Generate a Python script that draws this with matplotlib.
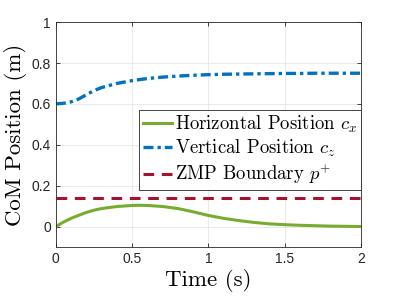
import matplotlib
matplotlib.use("Agg")
import matplotlib.pyplot as plt
import numpy as np

plt.rcParams['mathtext.fontset'] = 'cm'

t = [0, 0.05, 0.1, 0.15, 0.2, 0.25, 0.3, 0.4, 0.5, 0.55, 0.6, 0.7, 0.8, 0.9, 1.0, 1.1, 1.2, 1.3, 1.4, 1.5, 1.6, 1.7, 1.8, 1.9, 2.0]
cx = [0.0, 0.022, 0.040, 0.055, 0.069, 0.080, 0.088, 0.098, 0.103, 0.104, 0.103, 0.098, 0.088, 0.072, 0.054, 0.040, 0.029, 0.020, 0.013, 0.009, 0.006, 0.004, 0.002, 0.001, 0.0]
cz = [0.600, 0.603, 0.610, 0.624, 0.645, 0.665, 0.680, 0.700, 0.714, 0.719, 0.724, 0.731, 0.736, 0.740, 0.743, 0.745, 0.746, 0.747, 0.748, 0.749, 0.749, 0.750, 0.750, 0.750, 0.750]
p_plus = 0.14

xticks = [0, 0.5, 1, 1.5, 2]
xtick_labels = ['0', '0.5', '1', '1.5', '2']
yticks = [0, 0.2, 0.4, 0.6, 0.8, 1]
ytick_labels = ['0', '0.2', '0.4', '0.6', '0.8', '1']

fig = plt.figure(figsize=(3.99, 2.99), dpi=100)
ax = fig.add_axes([0.140, 0.174, 0.765, 0.752])

ax.plot(t, cx, color='#77AC30', lw=2.2, label=r'Horizontal Position $c_x$')
ax.plot(t, cz, color='#0072BD', lw=2.4, linestyle=(0, (3.0, 1.2, 1.0, 1.2)), label=r'Vertical Position $c_z$')
ax.plot([t[0], t[-1]], [p_plus, p_plus], color='#A2142F', lw=2.2, linestyle=(0, (3.5, 2.5)), label=r'ZMP Boundary $p^{+}$')

ax.set_xlim(0, 2)
ax.set_ylim(-0.1, 1)
ax.set_xticks(xticks)
ax.set_xticklabels(xtick_labels)
ax.set_yticks(yticks)
ax.set_yticklabels(ytick_labels)
ax.tick_params(direction='in', labelsize=10, length=3, width=0.6, colors='#262626', top=True, right=True,
               labeltop=False, labelright=False)
for lab in ax.get_xticklabels() + ax.get_yticklabels():
    lab.set_family('Liberation Sans')
ax.grid(True, color='#e6e6e6', lw=0.6)
ax.set_axisbelow(True)
for s in ax.spines.values():
    s.set_color('#262626')
    s.set_linewidth(0.6)

ax.set_xlabel('Time (s)', family='cmr10', fontsize=16.5, labelpad=2)
ax.set_ylabel('CoM Position (m)', family='cmr10', fontsize=16.5, labelpad=3)

leg = ax.legend(loc='upper right', bbox_to_anchor=(1.0, 0.609), prop={'family': 'cmr10', 'size': 13.5},
                frameon=True, fancybox=False, edgecolor='#262626', framealpha=1,
                handlelength=1.55, handletextpad=0.16, borderpad=0.2, labelspacing=0.15, borderaxespad=0)
leg.get_frame().set_linewidth(0.6)

fig.savefig('out.png', dpi=100)
